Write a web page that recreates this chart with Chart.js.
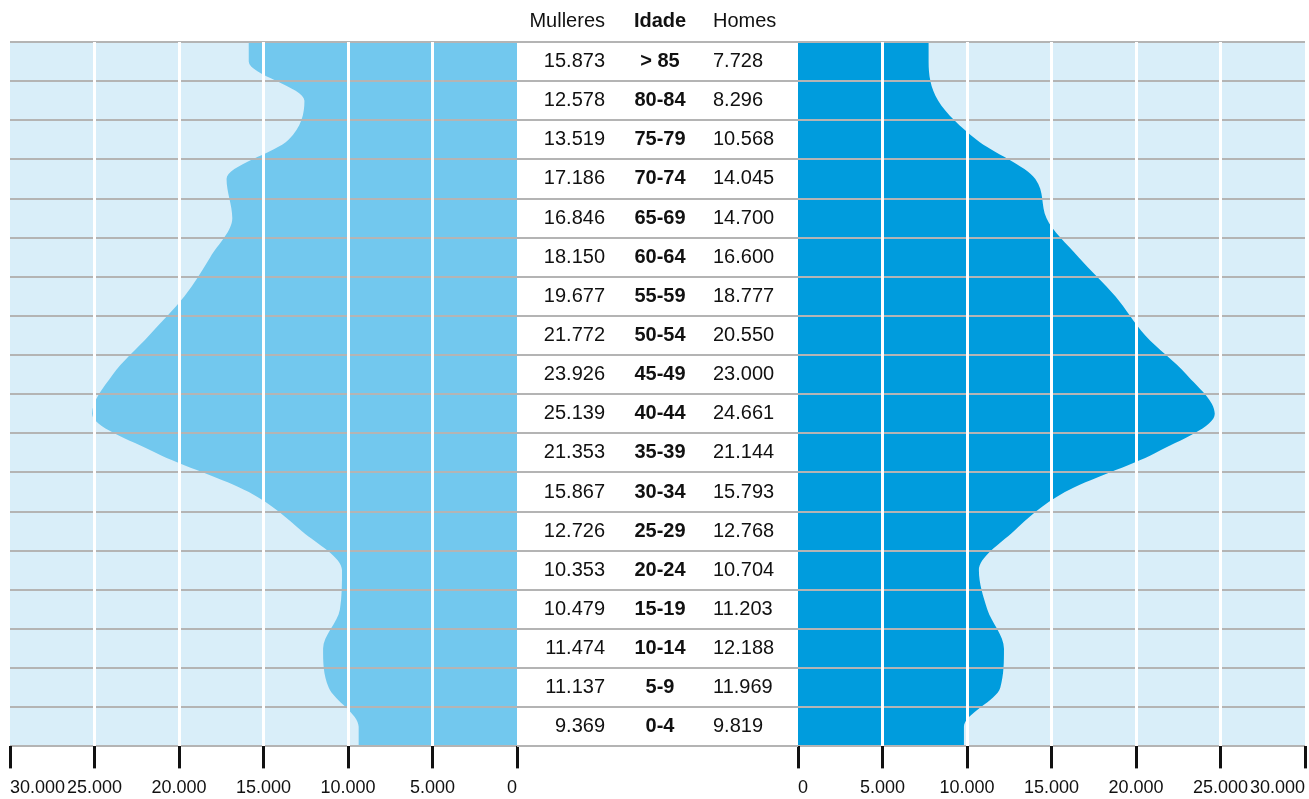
<!DOCTYPE html>
<html lang="gl">
<head>
<meta charset="utf-8">
<title>Pirámide de poboación</title>
<script src="https://cdn.jsdelivr.net/npm/chart.js@4.4.1/dist/chart.umd.min.js"></script>
<style>
  html, body { margin: 0; padding: 0; background: #fff; overflow: hidden; }
  #wrap { position: relative; width: 1309px; height: 799px; overflow: hidden; }
  #womenChart { position: absolute; left: 0; top: 0; }
  #menChart { position: absolute; left: 517px; top: 0; }
</style>
</head>
<body>
<div id="wrap">
  <canvas id="womenChart" width="526" height="808"></canvas>
  <canvas id="menChart" width="797" height="808"></canvas>
</div>
<script>
// top row first, as in the table
const ageGroups = ["> 85", "80-84", "75-79", "70-74", "65-69", "60-64", "55-59", "50-54", "45-49",
  "40-44", "35-39", "30-34", "25-29", "20-24", "15-19", "10-14", "5-9", "0-4"];
const women = [15873, 12578, 13519, 17186, 16846, 18150, 19677, 21772, 23926,
  25139, 21353, 15867, 12726, 10353, 10479, 11474, 11137, 9369];
const men = [7728, 8296, 10568, 14045, 14700, 16600, 18777, 20550, 23000,
  24661, 21144, 15793, 12768, 10704, 11203, 12188, 11969, 9819];
const axisMax = 30000;
const axisStep = 5000;
const headers = { women: "Mulleres", age: "Idade", men: "Homes" };

const COLORS = {
  panel: "#d9eef9",
  women: "#72c8ee",
  men: "#009cdd",
  rule: "#b4b4b4",
  grid: "#ffffff",
  tick: "#111111",
  text: "#111111",
};
const FONT = "'Liberation Sans', Arial, Helvetica, sans-serif";

// row boundaries for the grey rules
const rowEdges = ageGroups.map((_, i) => i - 0.5).concat(ageGroups.length - 0.5);

function formatThousands(n) {
  return String(n).replace(/\B(?=(\d{3})+(?!\d))/g, ".");
}

function pyramidPoints(values) {
  const last = values.length - 1;
  const points = values.map((v, i) => ({ x: v, y: i }));
  // outer groups run to the edge of their band
  points.unshift({ x: values[0], y: rowEdges[0] });
  points.push({ x: values[last], y: rowEdges[rowEdges.length - 1] });
  return points;
}

const panelBackground = {
  id: "panelBackground",
  beforeDraw(chart) {
    const { ctx, chartArea: a } = chart;
    ctx.save();
    ctx.fillStyle = COLORS.panel;
    ctx.fillRect(a.left, a.top, a.right - a.left, a.bottom - a.top);
    ctx.restore();
  },
};

// middle column: values and age groups, drawn on the men's canvas left of its plot
const ageTable = {
  id: "ageTable",
  afterDraw(chart) {
    const { ctx, chartArea } = chart;
    const yScale = chart.scales.y;
    const womenRight = chartArea.left - 193;
    const ageCenter = chartArea.left - 138;
    const menLeft = chartArea.left - 85;

    ctx.save();
    ctx.strokeStyle = COLORS.rule;
    ctx.lineWidth = 2;
    rowEdges.forEach((edge) => {
      const py = Math.round(yScale.getPixelForValue(edge));
      ctx.beginPath();
      ctx.moveTo(0, py);
      ctx.lineTo(chartArea.left, py);
      ctx.stroke();
    });

    ctx.fillStyle = COLORS.text;
    ctx.textBaseline = "middle";
    const headY = chartArea.top - 21;
    ctx.font = `20px ${FONT}`;
    ctx.textAlign = "right";
    ctx.fillText(headers.women, womenRight, headY);
    ctx.textAlign = "left";
    ctx.fillText(headers.men, menLeft, headY);
    ctx.font = `bold 20px ${FONT}`;
    ctx.textAlign = "center";
    ctx.fillText(headers.age, ageCenter, headY);

    ageGroups.forEach((group, i) => {
      const py = yScale.getPixelForValue(i);
      ctx.font = `20px ${FONT}`;
      ctx.textAlign = "right";
      ctx.fillText(formatThousands(women[i]), womenRight, py);
      ctx.textAlign = "left";
      ctx.fillText(formatThousands(men[i]), menLeft, py);
      ctx.font = `bold 20px ${FONT}`;
      ctx.textAlign = "center";
      ctx.fillText(group, ageCenter, py);
    });
    ctx.restore();
  },
};

function pyramidOptions(reverse, padding) {
  return {
    responsive: false,
    animation: false,
    events: [],
    indexAxis: "y",
    layout: { padding },
    plugins: { legend: { display: false }, tooltip: { enabled: false } },
    scales: {
      x: {
        type: "linear",
        reverse,
        min: 0,
        max: axisMax,
        // keep ticks in screen order so the outer labels sit inside the panel
        afterBuildTicks: (scale) => {
          if (reverse) scale.ticks.reverse();
        },
        border: { display: false },
        grid: {
          z: 2,
          lineWidth: 3,
          color: (ctx) => (ctx.tick && (ctx.tick.value === 0 || ctx.tick.value === axisMax)) ? "rgba(0,0,0,0)" : COLORS.grid,
          tickColor: COLORS.tick,
          tickWidth: 3,
          tickLength: 22,
        },
        ticks: {
          stepSize: axisStep,
          align: "inner",
          padding: 9,
          color: COLORS.text,
          font: { family: FONT, size: 18 },
          callback: (value) => formatThousands(value),
        },
      },
      y: {
        type: "linear",
        reverse: true,
        min: rowEdges[0],
        max: rowEdges[rowEdges.length - 1],
        afterBuildTicks: (scale) => {
          scale.ticks = rowEdges.map((value) => ({ value }));
        },
        border: { display: false },
        grid: { z: 1, color: COLORS.rule, lineWidth: 2, drawTicks: false },
        ticks: { display: false },
      },
    },
  };
}

function pyramidDataset(values, color) {
  return {
    data: pyramidPoints(values),
    backgroundColor: color,
    borderWidth: 0,
    pointRadius: 0,
    fill: "origin",
    cubicInterpolationMode: "monotone",
  };
}

new Chart(document.getElementById("womenChart"), {
  type: "line",
  data: { datasets: [pyramidDataset(women, COLORS.women)] },
  options: pyramidOptions(true, { top: 42, left: 10, right: 9, bottom: 0 }),
  plugins: [panelBackground],
});

new Chart(document.getElementById("menChart"), {
  type: "line",
  data: { datasets: [pyramidDataset(men, COLORS.men)] },
  options: pyramidOptions(false, { top: 42, left: 281, right: 9, bottom: 0 }),
  plugins: [panelBackground, ageTable],
});
</script>
</body>
</html>
